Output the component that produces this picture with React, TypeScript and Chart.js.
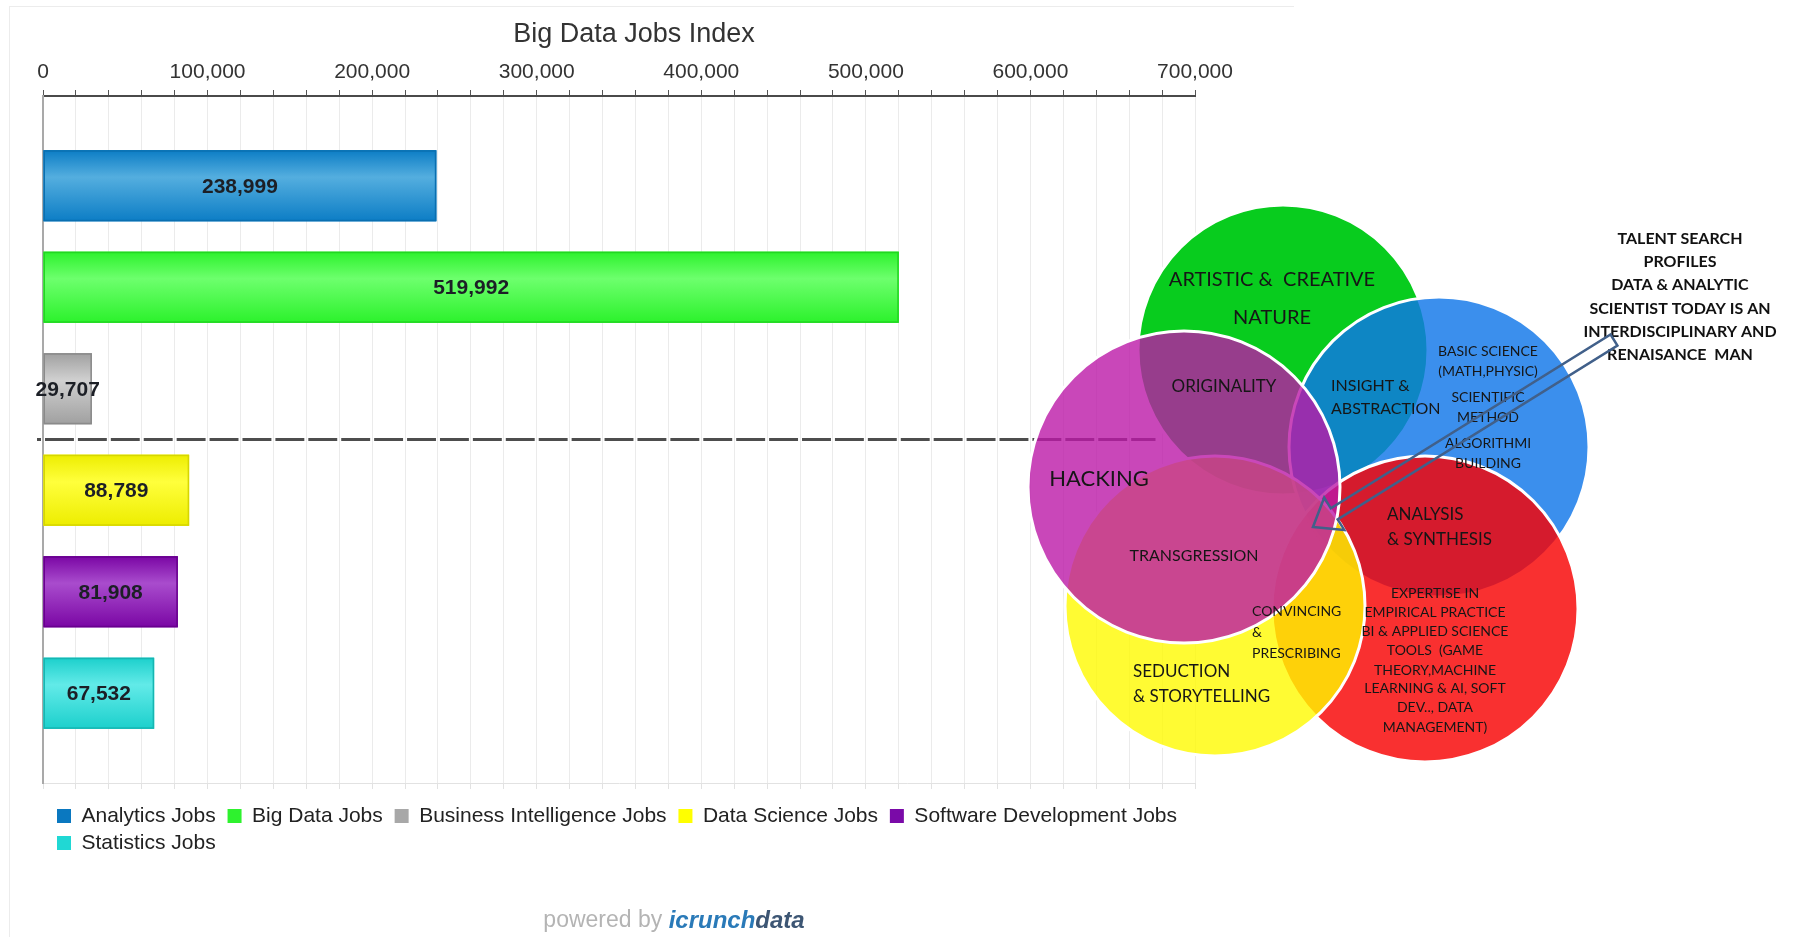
import React, { useEffect, useRef } from 'react';
import { Chart, registerables } from 'chart.js';

Chart.register(...registerables);

const SANS = '"Liberation Sans", Arial, Helvetica, sans-serif';
const NARROW = '"Liberation Sans Narrow", "Liberation Sans", Arial, sans-serif';
const VENN_FONT = 'Lato, "Open Sans", sans-serif';

Chart.defaults.font.family = SANS;
Chart.defaults.color = '#333333';

// ---------------- Bar chart data ----------------
const chartTitle = 'Big Data Jobs Index';
const jobCategories = [
  'Analytics Jobs',
  'Big Data Jobs',
  'Business Intelligence Jobs',
  'Data Science Jobs',
  'Software Development Jobs',
  'Statistics Jobs',
];
const jobCounts = [238999, 519992, 29707, 88789, 81908, 67532];
const axisMin = 0;
const axisMax = 700000;
const gridStep = 20000;
const labelStep = 100000;
const dividerEndValue = 676000;

// bar colours (edge / highlight / outline / legend swatch)
const barEdge = ['#0c7dc5', '#2cf22c', '#a0a0a0', '#eded00', '#7a06a4', '#1cd0cc'];
const barMid = ['#54aedf', '#6dff6d', '#d0d0d0', '#ffff3c', '#a94ccd', '#62eae8'];
const barOutline = ['#0a6fb0', '#22d622', '#8a8a8a', '#d6d600', '#68008e', '#16b6b2'];
const legendSwatch = ['#0a78c0', '#2ef22e', '#a8a8a8', '#ffff00', '#7a0aa8', '#20d8d4'];

// ---------------- Venn diagram data ----------------
const vennNames = ['Artistic', 'Insight', 'Analysis', 'Seduction', 'Hacking'];
const vennX = [1283, 1439, 1425, 1215, 1184];
const vennY = [350, 447, 609, 606, 487];
const vennR = [145, 150, 153, 150, 156];
const vennFill = [
  'rgba(8,204,30,1)',
  'rgba(16,118,233,0.82)',
  'rgba(248,2,2,0.82)',
  'rgba(255,250,0,0.80)',
  'rgba(187,25,167,0.80)',
];

type VText = { lines: string[]; x: number; y: number[]; size: number; align: CanvasTextAlign; bold?: boolean };
const vennTexts: VText[] = [
  { lines: ['ARTISTIC &  CREATIVE', 'NATURE'], x: 1272, y: [280, 318], size: 20, align: 'center' },
  { lines: ['ORIGINALITY'], x: 1224, y: [387], size: 17, align: 'center' },
  { lines: ['INSIGHT &', 'ABSTRACTION'], x: 1331, y: [386, 409], size: 16, align: 'left' },
  {
    lines: ['BASIC SCIENCE', '(MATH,PHYSIC)', 'SCIENTIFIC', 'METHOD', 'ALGORITHMI', 'BUILDING'],
    x: 1488, y: [351, 371, 397, 417, 443, 463], size: 14, align: 'center',
  },
  { lines: ['HACKING'], x: 1099, y: [479], size: 22, align: 'center' },
  { lines: ['TRANSGRESSION'], x: 1194, y: [556], size: 16, align: 'center' },
  { lines: ['ANALYSIS', '& SYNTHESIS'], x: 1387, y: [515, 540], size: 17, align: 'left' },
  {
    lines: ['EXPERTISE IN', 'EMPIRICAL PRACTICE', 'BI & APPLIED SCIENCE', 'TOOLS  (GAME', 'THEORY,MACHINE',
      'LEARNING & AI, SOFT', 'DEV.., DATA', 'MANAGEMENT)'],
    x: 1435, y: [593, 612, 631, 650, 670, 688, 707, 727], size: 14, align: 'center',
  },
  { lines: ['CONVINCING', '&', 'PRESCRIBING'], x: 1252, y: [611, 632, 653], size: 14, align: 'left' },
  { lines: ['SEDUCTION', '& STORYTELLING'], x: 1133, y: [672, 697], size: 17, align: 'left' },
  {
    lines: ['TALENT SEARCH', 'PROFILES', 'DATA & ANALYTIC', 'SCIENTIST TODAY IS AN', 'INTERDISCIPLINARY AND', 'RENAISANCE  MAN'],
    x: 1680, y: [239, 262, 285, 309, 332, 355], size: 16, align: 'center', bold: true,
  },
];
const arrowTip = { x: 1313, y: 527 };
const arrowTail = { x: 1614, y: 340 };

// ---------------- Plugins ----------------
const barDecor = {
  id: 'barDecor',
  afterLayout(chart: any) {
    if (chart.titleBlock) {
      chart.titleBlock.left += 15;
      chart.titleBlock.right += 15;
    }
    if (chart.legend) {
      chart.legend.left += 8;
      chart.legend.right += 8;
    }
  },
  afterDatasetsDraw(chart: any) {
    const { ctx, chartArea } = chart;
    const xs = chart.scales.x;
    ctx.save();
    const centers: number[] = [];
    chart.data.datasets.forEach((_ds: any, i: number) => {
      const el = chart.getDatasetMeta(i).data[0];
      if (!el) return;
      const { x, y, base, height } = el.getProps(['x', 'y', 'base', 'height'], true);
      const left = Math.min(x, base);
      const right = Math.max(x, base);
      const top = y - height / 2;
      const g = ctx.createLinearGradient(0, top, 0, top + height);
      g.addColorStop(0, barEdge[i]);
      g.addColorStop(0.38, barMid[i]);
      g.addColorStop(1, barEdge[i]);
      ctx.fillStyle = g;
      ctx.fillRect(left, top, right - left, height);
      ctx.strokeStyle = barOutline[i];
      ctx.lineWidth = 1.5;
      ctx.strokeRect(left + 0.75, top + 0.75, right - left - 1.5, height - 1.5);
      centers.push(y);
      ctx.font = `bold 21px ${SANS}`;
      ctx.fillStyle = '#1c1f26';
      ctx.textAlign = 'center';
      ctx.textBaseline = 'middle';
      ctx.fillText(jobCounts[i].toLocaleString('en-US'), (left + right) / 2, y + 1);
    });
    if (centers.length >= 4) {
      const yMid = (centers[2] + centers[3]) / 2;
      const step = xs.getPixelForValue(gridStep) - xs.getPixelForValue(0);
      ctx.setLineDash([step - 4, 4]);
      ctx.lineDashOffset = step - 8;
      ctx.strokeStyle = '#4d4d4d';
      ctx.lineWidth = 3;
      ctx.beginPath();
      ctx.moveTo(chartArea.left - 6, yMid);
      ctx.lineTo(xs.getPixelForValue(dividerEndValue), yMid);
      ctx.stroke();
      ctx.setLineDash([]);
    }
    ctx.restore();
  },
  afterDraw(chart: any) {
    const ctx = chart.ctx;
    ctx.save();
    ctx.textBaseline = 'middle';
    ctx.textAlign = 'left';
    const parts = [
      { t: 'powered by ', f: `23px ${NARROW}`, c: '#b4b4b4' },
      { t: 'icrunch', f: `italic bold 24px ${NARROW}`, c: '#2a7ab8' },
      { t: 'data', f: `italic bold 24px ${NARROW}`, c: '#3d5674' },
    ];
    let total = 0;
    parts.forEach((p) => { ctx.font = p.f; total += ctx.measureText(p.t).width; });
    let x = 664 - total / 2;
    parts.forEach((p) => {
      ctx.font = p.f;
      ctx.fillStyle = p.c;
      ctx.fillText(p.t, x, 914);
      x += ctx.measureText(p.t).width;
    });
    ctx.restore();
  },
};

const vennDecor = {
  id: 'vennDecor',
  afterDatasetsDraw(chart: any) {
    const ctx = chart.ctx;
    const xs = chart.scales.x;
    const ys = chart.scales.y;
    ctx.save();
    ctx.textBaseline = 'middle';
    vennTexts.forEach((t) => {
      ctx.font = `${t.bold ? 'bold ' : ''}${t.size}px ${VENN_FONT}`;
      ctx.fillStyle = t.bold ? '#111111' : '#161616';
      ctx.textAlign = t.align;
      t.lines.forEach((line, k) => {
        ctx.fillText(line, xs.getPixelForValue(t.x), ys.getPixelForValue(t.y[k]));
      });
    });
    // hollow arrow
    const T = { x: xs.getPixelForValue(arrowTip.x), y: ys.getPixelForValue(arrowTip.y) };
    const S = { x: xs.getPixelForValue(arrowTail.x), y: ys.getPixelForValue(arrowTail.y) };
    const dx = S.x - T.x;
    const dy = S.y - T.y;
    const len = Math.hypot(dx, dy);
    const u = { x: dx / len, y: dy / len };
    const n = { x: -u.y, y: u.x };
    const hl = 25;
    const hw = 19;
    const w = 6.5;
    const hb = { x: T.x + u.x * hl, y: T.y + u.y * hl };
    const pts = [
      T,
      { x: hb.x + n.x * hw, y: hb.y + n.y * hw },
      { x: hb.x + n.x * w, y: hb.y + n.y * w },
      { x: S.x + n.x * w, y: S.y + n.y * w },
      { x: S.x - n.x * w, y: S.y - n.y * w },
      { x: hb.x - n.x * w, y: hb.y - n.y * w },
      { x: hb.x - n.x * hw, y: hb.y - n.y * hw },
    ];
    ctx.beginPath();
    pts.forEach((p, k) => (k === 0 ? ctx.moveTo(p.x, p.y) : ctx.lineTo(p.x, p.y)));
    ctx.closePath();
    ctx.strokeStyle = '#41608a';
    ctx.lineWidth = 2.5;
    ctx.lineJoin = 'miter';
    ctx.stroke();
    ctx.restore();
  },
};

// ---------------- Component ----------------
export default function App() {
  const barRef = useRef<HTMLCanvasElement>(null);
  const vennRef = useRef<HTMLCanvasElement>(null);

  useEffect(() => {
    const barChart = new Chart(barRef.current as HTMLCanvasElement, {
      type: 'bar',
      data: {
        labels: [chartTitle],
        datasets: jobCategories.map((name, i) => ({
          label: name,
          data: [jobCounts[i]],
          backgroundColor: barEdge[i],
          borderColor: barOutline[i],
          borderWidth: 0,
          categoryPercentage: 0.8865,
          barPercentage: 0.7,
          xAxisID: 'x',
          yAxisID: 'y',
        })),
      },
      options: {
        indexAxis: 'y',
        responsive: false,
        animation: false,
        events: [],
        layout: { padding: { left: 33, right: 98, top: 0, bottom: 73.5 } },
        plugins: {
          title: {
            display: true,
            text: chartTitle,
            color: '#333333',
            font: { size: 27, weight: 'normal', family: SANS },
            padding: { top: 11, bottom: 0 },
          },
          legend: {
            position: 'bottom',
            align: 'start',
            fullSize: false,
            labels: {
              font: { size: 21, family: SANS },
              color: '#222222',
              boxWidth: 14,
              boxHeight: 14,
              padding: 6,
              generateLabels: () =>
                jobCategories.map((c, i) => ({
                  text: c + ' ',
                  fillStyle: legendSwatch[i],
                  strokeStyle: legendSwatch[i],
                  lineWidth: 0,
                  hidden: false,
                  datasetIndex: i,
                  fontColor: '#222222',
                })),
            },
          },
          tooltip: { enabled: false },
        },
        scales: {
          x: {
            type: 'linear',
            position: 'top',
            min: axisMin,
            max: axisMax,
            ticks: {
              stepSize: gridStep,
              maxTicksLimit: 200,
              autoSkip: false,
              maxRotation: 0,
              padding: 5,
              color: '#333333',
              font: { size: 21, family: SANS },
              callback: (v: any) => (Number(v) % labelStep === 0 ? Number(v).toLocaleString('en-US') : ''),
            },
            grid: { color: '#ebebeb', lineWidth: 1, drawTicks: true, tickLength: 6, tickColor: '#555555' },
            border: { display: true, color: '#4a4a4a', width: 2 },
            afterFit: (s: any) => { s.height = 45.6; },
          },
          x2: {
            type: 'linear',
            position: 'bottom',
            min: axisMin,
            max: axisMax,
            ticks: { display: false, stepSize: gridStep, maxTicksLimit: 200, autoSkip: false },
            grid: { drawOnChartArea: false, drawTicks: true, tickLength: 6, tickColor: '#e2e2e2' },
            border: { display: true, color: '#e2e2e2', width: 1 },
            afterFit: (s: any) => { s.height = 16.5; },
          },
          y: {
            type: 'category',
            ticks: { display: false },
            grid: { display: false },
            border: { display: true, color: '#a9a9a9', width: 2 },
            afterFit: (s: any) => { s.width = 0; },
          },
        },
      } as any,
      plugins: [barDecor],
    });

    const vennChart = new Chart(vennRef.current as HTMLCanvasElement, {
      type: 'bubble',
      data: {
        datasets: [
          {
            label: 'Data scientist profile',
            data: vennNames.map((_n, i) => ({ x: vennX[i], y: vennY[i], r: vennR[i] })),
            backgroundColor: vennFill,
            borderColor: '#ffffff',
            borderWidth: 3,
            hoverBorderWidth: 3,
            clip: false,
          } as any,
        ],
      },
      options: {
        responsive: false,
        animation: false,
        events: [],
        layout: { padding: 0, autoPadding: false },
        plugins: { legend: { display: false }, tooltip: { enabled: false }, title: { display: false } },
        scales: {
          x: { type: 'linear', min: 0, max: 1795, display: false },
          y: { type: 'linear', min: 0, max: 937, reverse: true, display: false },
        },
      } as any,
      plugins: [vennDecor],
    });

    return () => {
      barChart.destroy();
      vennChart.destroy();
    };
  }, []);

  return (
    <div style={{ position: 'fixed', left: 0, top: 0, width: 1795, height: 937, background: '#ffffff', overflow: 'hidden' }}>
      <div
        style={{
          position: 'absolute', left: 9, top: 6, width: 1284, height: 940,
          borderLeft: '1px solid #ececec', borderTop: '1px solid #ececec',
        }}
      />
      <canvas ref={barRef} width={1283} height={930} style={{ position: 'absolute', left: 10, top: 7, width: 1283, height: 930 }} />
      <canvas ref={vennRef} width={1795} height={937} style={{ position: 'absolute', left: 0, top: 0, width: 1795, height: 937, pointerEvents: 'none' }} />
    </div>
  );
}
